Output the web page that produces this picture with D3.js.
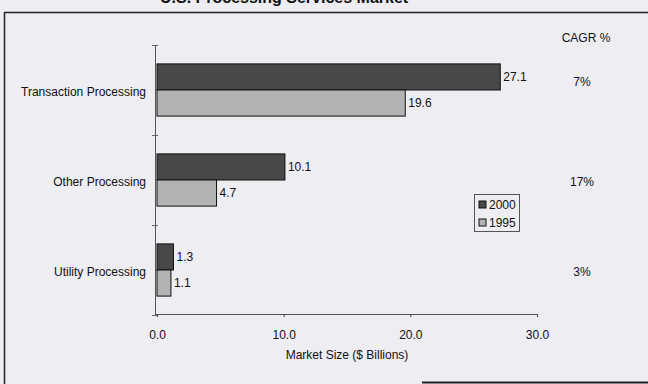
<!DOCTYPE html>
<html>
<head>
<meta charset="utf-8">
<script src="https://cdn.jsdelivr.net/npm/d3@7"></script>
<style>
  html, body { margin: 0; padding: 0; background: #ededf2; }
  svg { display: block; font-family: "Liberation Sans", Arial, sans-serif; }
</style>
</head>
<body>
<svg id="chart"></svg>
<script>
  // chart data
  const categories = ['Transaction Processing', 'Other Processing', 'Utility Processing'];
  const seriesNames = ['2000', '1995'];
  const values2000 = [27.1, 10.1, 1.3];
  const values1995 = [19.6, 4.7, 1.1];
  const cagr = ['7%', '17%', '3%'];
  const xTicks = [0, 10, 20, 30];
  const colors = { '2000': '#484848', '1995': '#b3b3b3' };

  const width = 648;
  const height = 384;

  const svg = d3.select('#chart')
    .attr('width', width)
    .attr('height', height);

  // frame, partly cut off like the scan
  svg.append('text')
    .attr('x', 160).attr('y', 3)
    .attr('font-size', 16).attr('font-weight', 'bold')
    .attr('fill', '#111')
    .text('U.S. Processing Services Market');

  svg.append('line').attr('x1', 4).attr('x2', width).attr('y1', 12.5).attr('y2', 12.5)
    .attr('stroke', '#222').attr('stroke-width', 1.5);
  svg.append('line').attr('x1', 4.5).attr('x2', 4.5).attr('y1', 12).attr('y2', height)
    .attr('stroke', '#222').attr('stroke-width', 1.5);
  svg.append('line').attr('x1', 422).attr('x2', width).attr('y1', 382.5).attr('y2', 382.5)
    .attr('stroke', '#222').attr('stroke-width', 2);

  const x = d3.scaleLinear().domain([0, 30]).range([157, 537]);
  const y = d3.scaleBand().domain(categories).range([45, 315])
    .paddingInner(0.42).paddingOuter(0.21);
  const ySub = d3.scaleBand().domain(seriesNames).range([0, y.bandwidth()]);

  const rows = categories.map((c, i) => ({
    name: c,
    cagr: cagr[i],
    values: [
      { series: '2000', value: values2000[i] },
      { series: '1995', value: values1995[i] }
    ]
  }));

  // x axis
  const xAxis = svg.append('g')
    .attr('transform', 'translate(0,314)')
    .call(d3.axisBottom(x).tickValues(xTicks).tickFormat(d3.format('.1f')).tickSizeOuter(0).tickSize(3).tickPadding(13));
  xAxis.select('.domain').attr('d', 'M155,0.5H537').attr('stroke', '#555');
  xAxis.selectAll('.tick line').attr('stroke', '#444');
  xAxis.selectAll('.tick text').attr('font-size', 12).attr('fill', '#111');

  svg.append('text')
    .attr('x', 347).attr('y', 359)
    .attr('text-anchor', 'middle')
    .attr('font-size', 12).attr('fill', '#111')
    .text('Market Size ($ Billions)');

  // y axis line + ticks at band boundaries
  const gap = (y.step() - y.bandwidth()) / 2;
  const bounds = categories.map(c => y(c) - gap).concat([315]);
  svg.append('line').attr('x1', 155.5).attr('x2', 155.5).attr('y1', 45).attr('y2', 315)
    .attr('stroke', '#555');
  svg.selectAll('.ytick').data(bounds).enter().append('line')
    .attr('x1', 152).attr('x2', 158)
    .attr('y1', d => d + 0.5).attr('y2', d => d + 0.5)
    .attr('stroke', '#666');

  svg.selectAll('.cat').data(rows).enter().append('text')
    .attr('x', 146)
    .attr('y', d => y(d.name) + y.bandwidth() / 2 + 6)
    .attr('text-anchor', 'end')
    .attr('font-size', 12).attr('fill', '#111')
    .text(d => d.name);

  // bars
  const groups = svg.selectAll('.grp').data(rows).enter().append('g')
    .attr('transform', d => `translate(0,${y(d.name)})`);

  groups.selectAll('rect').data(d => d.values).enter().append('rect')
    .attr('x', x(0))
    .attr('y', d => ySub(d.series))
    .attr('width', d => x(d.value) - x(0))
    .attr('height', ySub.bandwidth())
    .attr('fill', d => colors[d.series])
    .attr('stroke', '#111').attr('stroke-width', 1);

  groups.selectAll('text').data(d => d.values).enter().append('text')
    .attr('x', d => x(d.value) + 3)
    .attr('y', d => ySub(d.series) + ySub.bandwidth() / 2 + 4)
    .attr('font-size', 12).attr('fill', '#111')
    .text(d => d3.format('.1f')(d.value));

  // CAGR column
  svg.append('text')
    .attr('x', 586).attr('y', 42)
    .attr('text-anchor', 'middle')
    .attr('font-size', 12).attr('fill', '#111')
    .text('CAGR %');

  svg.selectAll('.cagr').data(rows).enter().append('text')
    .attr('x', 582)
    .attr('y', (d, i) => y(d.name) + y.bandwidth() / 2 + (i === 0 ? -4 : 6))
    .attr('text-anchor', 'middle')
    .attr('font-size', 12).attr('fill', '#111')
    .text(d => d.cagr);

  // legend
  const legend = svg.append('g').attr('transform', 'translate(474,194)');
  legend.append('rect')
    .attr('x', 0.5).attr('y', 0.5).attr('width', 45).attr('height', 37)
    .attr('fill', 'none').attr('stroke', '#555');
  const items = legend.selectAll('.item').data(seriesNames).enter().append('g')
    .attr('transform', (d, i) => `translate(5,${7 + i * 18})`);
  items.append('rect')
    .attr('width', 7).attr('height', 7)
    .attr('fill', d => colors[d])
    .attr('stroke', '#111');
  items.append('text')
    .attr('x', 10).attr('y', 8)
    .attr('font-size', 12).attr('fill', '#111')
    .text(d => d);
</script>
</body>
</html>
